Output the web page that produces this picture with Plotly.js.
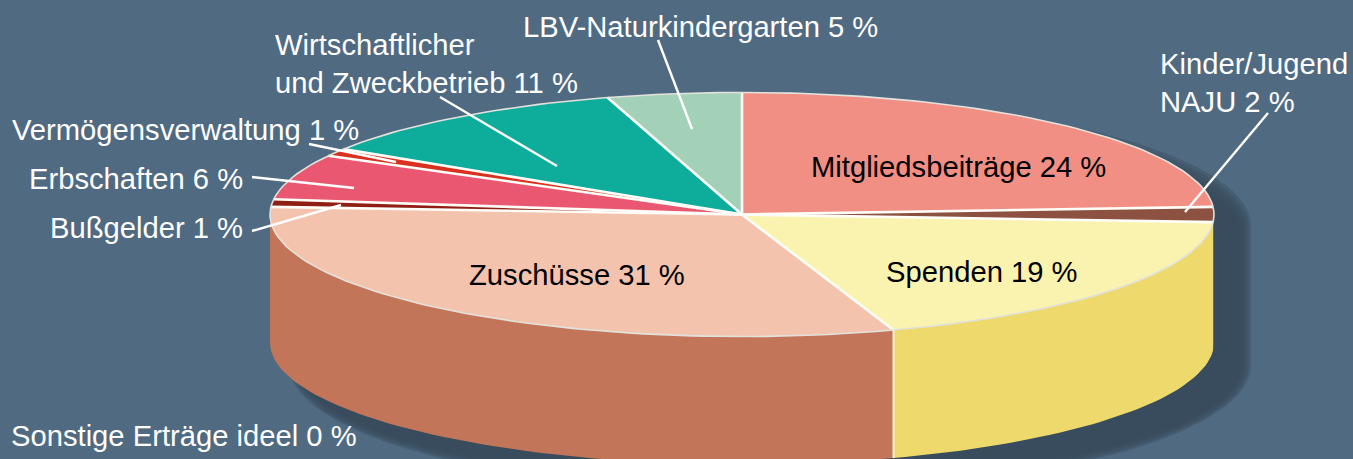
<!DOCTYPE html>
<html>
<head>
<meta charset="utf-8">
<script src="https://cdn.plot.ly/plotly-3.0.1.min.js"></script>
<style>html,body{margin:0;padding:0;background:#506a82;overflow:hidden}#chart{width:1353px;height:459px}</style>
</head>
<body>
<div id="chart"></div>
<script>
// Data, clockwise from 12 o'clock (shares; labels show them rounded)
const categories = ["Mitgliedsbeiträge","Kinder/Jugend<br>NAJU","Spenden","Zuschüsse","Bußgelder","Erbschaften","Vermögensverwaltung","Wirtschaftlicher<br>und Zweckbetrieb","LBV-Naturkindergarten"];
const shares = [24,2,18.8,31.2,1,6,1,11.4,4.6];
const topColors = ["#f28f85","#8c5140","#faf3b0","#f4c3ad","#8f1f14","#e95870","#d9301f","#0eac9b","#a3d1b7"];
const wallColors = ["#c27558","#8c5140","#eed96c","#c27558","#c27558","#c27558","#c27558","#c27558","#c27558"];
const extraCategory = "Sonstige Erträge ideel";
const extraShare = 0;

// Presentation
const cx = 742, cy = 214.5, rx = 472, ry = 122, depth = 128;
const FONT = "Liberation Sans, Arial, sans-serif";
const FS = 29.2;
const labelStyle = [
  {x:1108,y:167,anchor:"right",color:"#000"},
  {x:1158,y:83,anchor:"left",color:"#fff",align:"left"},
  {x:1080,y:272,anchor:"right",color:"#000"},
  {x:687,y:275,anchor:"right",color:"#000"},
  {x:245,y:228,anchor:"right",color:"#fff"},
  {x:245,y:179,anchor:"right",color:"#fff"},
  {x:361,y:130,anchor:"right",color:"#fff"},
  {x:273,y:64,anchor:"left",color:"#fff",align:"left"},
  {x:880,y:27,anchor:"right",color:"#fff"}
];
const leaders = [
  [1268,113,1185,212],[658,40,692,129],[440,97,557,166],
  [309,144,396,162],[252,177,354,188],[252,231,341,205]
];

function pt(t, dy=0, c=cx, cc=cy, a=rx, b=ry){
  const r = t*Math.PI/180;
  return [c + a*Math.sin(r), cc - b*Math.cos(r) + dy];
}
function arc(t0,t1,dy=0,c=cx,cc=cy,a=rx,b=ry){
  const n = Math.max(2,Math.ceil(Math.abs(t1-t0)/1.5)), out=[];
  for(let i=0;i<=n;i++) out.push(pt(t0+(t1-t0)*i/n,dy,c,cc,a,b));
  return out;
}
function poly(points, color, extra={}){
  return Object.assign({type:"scatter",mode:"lines",x:points.map(p=>p[0]),y:points.map(p=>p[1]),
    fill:"toself",fillcolor:color,line:{width:0,color:color},hoverinfo:"skip",showlegend:false},extra);
}
function stroke(points,color,width){
  return {type:"scatter",mode:"lines",x:points.map(p=>p[0]),y:points.map(p=>p[1]),
    line:{width:width,color:color},hoverinfo:"skip",showlegend:false};
}

const traces = [];
// soft drop shadow
for(let k=0;k<7;k++){
  const g = 6 - k*2;
  const a = 475 + g, b = 122 + g, c0 = 770, top = 232 - g, bot = 365;
  const pts = arc(90,270,0,c0,bot,a,b).concat(arc(270,450,0,c0,top,a,b));
  traces.push(poly(pts,"rgba(58,76,93,0.42)"));
}
// cumulative angles
const total = shares.reduce((a,b)=>a+b,0);
let acc = 0; const bounds = [0];
shares.forEach(v=>{acc+=v; bounds.push(acc/total*360);});
// outer wall
shares.forEach((v,i)=>{
  const t0 = Math.max(bounds[i],90), t1 = Math.min(bounds[i+1],270);
  if(t1>t0){
    traces.push(poly(arc(t0,t1).concat(arc(t1,t0,depth)),wallColors[i]));
  }
});
traces.push(stroke([pt(bounds[3]),pt(bounds[3],depth)],"#fbeee6",2));
// top face
shares.forEach((v,i)=>{
  traces.push(poly([[cx,cy]].concat(arc(bounds[i],bounds[i+1])),topColors[i]));
});
// white seams
bounds.slice(0,-1).forEach(t=>{
  traces.push(stroke([[cx,cy],pt(t)],"#fffdf8",2.6));
});
// rim
traces.push(stroke(arc(0,360),"#e2e2dc",1.6));

const annotations = categories.map((c,i)=>({
  x:labelStyle[i].x,y:labelStyle[i].y,xref:"x",yref:"y",showarrow:false,
  xanchor:labelStyle[i].anchor,yanchor:"middle",align:labelStyle[i].align||"right",
  text:c+" "+Math.round(shares[i])+" %",font:{family:FONT,size:FS,color:labelStyle[i].color}
}));
annotations.push({x:9,y:436,xref:"x",yref:"y",showarrow:false,xanchor:"left",yanchor:"middle",
  text:extraCategory+" "+extraShare+" %",font:{family:FONT,size:FS,color:"#fff"}});

const shapes = leaders.map(l=>({type:"line",xref:"x",yref:"y",x0:l[0],y0:l[1],x1:l[2],y1:l[3],
  line:{color:"#fff",width:2.4},layer:"above"}));

Plotly.newPlot("chart",traces,{
  width:1353,height:459,margin:{l:0,r:0,t:0,b:0},
  paper_bgcolor:"#506a82",plot_bgcolor:"#506a82",showlegend:false,
  xaxis:{range:[0,1353],visible:false,fixedrange:true},
  yaxis:{range:[459,0],visible:false,fixedrange:true},
  annotations:annotations,shapes:shapes
},{displayModeBar:false,staticPlot:true});
</script>
</body>
</html>
